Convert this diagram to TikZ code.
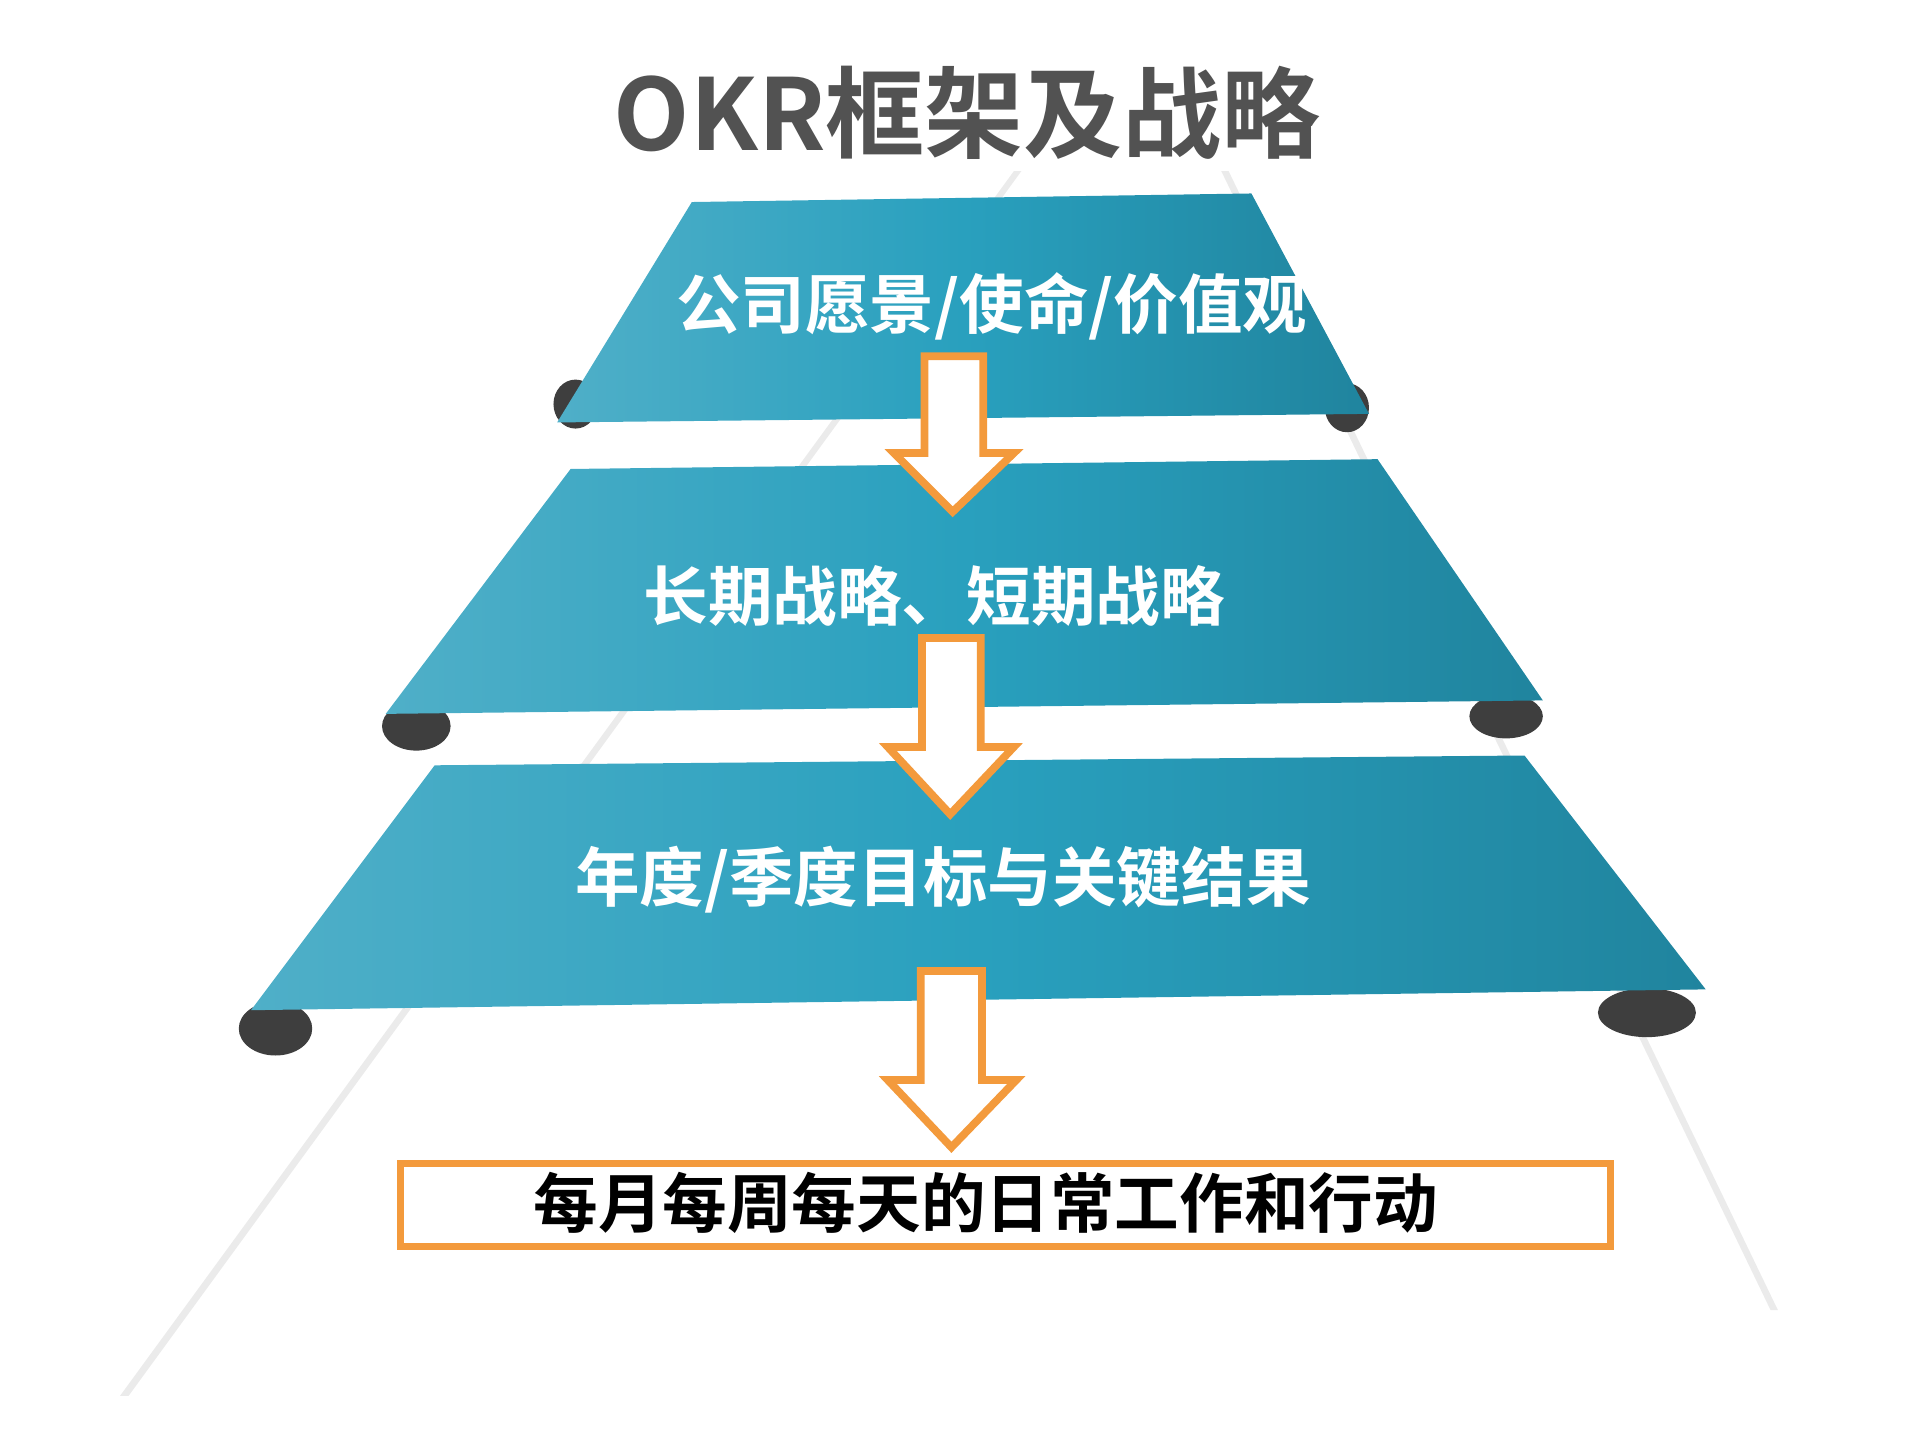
\documentclass[tikz,border=0pt]{standalone}
\usepackage{fontspec}
\setmainfont{Noto Sans CJK SC}
\newfontfamily\cjkb{Noto Sans CJK SC Bold}
\definecolor{teal1}{HTML}{29A0BE}
\definecolor{teal2}{HTML}{20849E}
\definecolor{teal3}{HTML}{4FAFC8}
\definecolor{org}{HTML}{F39A3C}
\definecolor{curl}{HTML}{3E3E3E}
\tikzset{
 band/.style={left color=teal3, right color=teal2, middle color=teal1, draw=none},
 curlend/.style={fill=curl, draw=none},
 hollow/.style={draw=org, line width=1.8pt, fill=white, line join=miter},
 btxt/.style={text=white, font=\cjkb\fontsize{15pt}{15pt}\selectfont},
}
\begin{document}
\begin{tikzpicture}[x=0.01cm,y=-0.01cm]
\useasboundingbox (0,0) rectangle (1568,1176);
% faint pyramid edges
\fill[black!8] (930,0) -- (936,0) -- (105,1140) -- (98,1140) -- cycle;
\fill[black!8] (930,0) -- (936,0) -- (1452,1070) -- (1446,1070) -- cycle;
\fill[white] (480,0) rectangle (1090,140);
\node (title) at (790,92) {\cjkb\fontsize{23pt}{23pt}\selectfont\color{black!68}OKR框架及战略};
% curls
\fill[curlend] (470,330) ellipse (18 and 20);
\fill[curlend] (1100,333) ellipse (18 and 20);
\fill[curlend] (340,593) ellipse (28 and 20);
\fill[curlend] (1230,585) ellipse (30 and 18);
\fill[curlend] (225,840) ellipse (30 and 22);
\fill[curlend] (1345,827) ellipse (40 and 20);
% bands
\path[band] (565,165) -- (1022,158) -- (1118,338) -- (455,345) -- cycle;
\path[band] (466,383) -- (1125,375) -- (1260,572) -- (315,583) -- cycle;
\path[band] (355,625) -- (1245,617) -- (1393,808) -- (205,825) -- cycle;
\node[btxt] (t1) at (810,250) {公司愿景/使命/价值观};
\node[btxt] (t2) at (763,487) {长期战略、短期战略};
\node[btxt] (t3) at (770,718) {年度/季度目标与关键结果};
% arrows
\draw[hollow] (755,291) -- (803,291) -- (803,370) -- (828,370) -- (778,418) -- (730,370) -- (755,370) -- cycle;
\draw[hollow] (753,521) -- (801,521) -- (801,610) -- (828,610) -- (776,665) -- (725,610) -- (753,610) -- cycle;
\draw[hollow] (752,793) -- (802,793) -- (802,882) -- (830,882) -- (777,937) -- (725,882) -- (752,882) -- cycle;
\draw[draw=org, line width=1.6pt, fill=white] (327,950) rectangle (1315,1018);
\node (bt) at (805,982) {\cjkb\fontsize{15pt}{15pt}\selectfont 每月每周每天的日常工作和行动};
\end{tikzpicture}
\end{document}
